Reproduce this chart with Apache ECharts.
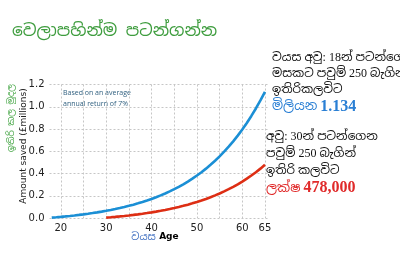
<!DOCTYPE html>
<html><head><meta charset="utf-8">
<script src="https://cdn.jsdelivr.net/npm/echarts@6/dist/echarts.min.js"></script>
<style>html,body{margin:0;padding:0;background:#fff}#c{width:400px;height:253px}</style>
</head><body><div id="c"></div>
<script>
// Age (years) and amount saved (£ millions), start saving at 18
const agesFrom18 = [18,19,20,21,22,23,24,25,26,27,28,29,30,31,32,33,34,35,36,37,38,39,40,41,42,43,44,45,46,47,48,49,50,51,52,53,54,55,56,57,58,59,60,61,62,63,64,65];
const savedFrom18 = [0.0032,0.0066,0.0103,0.0143,0.0185,0.0230,0.0278,0.0329,0.0385,0.0444,0.0507,0.0574,0.0647,0.0724,0.0807,0.0895,0.0990,0.1091,0.1200,0.1316,0.1440,0.1573,0.1715,0.1868,0.2030,0.2205,0.2391,0.2590,0.2804,0.3032,0.3277,0.3538,0.3818,0.4117,0.4437,0.4780,0.5147,0.5539,0.5959,0.6408,0.6889,0.7403,0.7954,0.8543,0.9173,0.9847,1.0568,1.1340];
// Start saving at 30
const agesFrom30 = [30,31,32,33,34,35,36,37,38,39,40,41,42,43,44,45,46,47,48,49,50,51,52,53,54,55,56,57,58,59,60,61,62,63,64,65];
const savedFrom30 = [0.0032,0.0066,0.0103,0.0143,0.0185,0.0230,0.0278,0.0329,0.0385,0.0444,0.0507,0.0574,0.0647,0.0724,0.0807,0.0895,0.0990,0.1091,0.1200,0.1316,0.1440,0.1573,0.1715,0.1868,0.2030,0.2205,0.2391,0.2590,0.2804,0.3032,0.3277,0.3538,0.3818,0.4117,0.4437,0.4780];
const xTickLabels = [20,30,40,50,60,65];
const yTickValues = [0,0.2,0.4,0.6,0.8,1.0,1.2];

const SIN = '"Noto Sans Sinhala","Noto Serif Sinhala","Noto Sans",sans-serif';
const SERIF = '"Liberation Serif","Noto Sans Sinhala",serif';

const chart = echarts.init(document.getElementById('c'), null, {renderer:'canvas'});
const gridDash = {color:['rgba(0,0,0,0)','#c6c6c6'], type:[2,2], width:1};
chart.setOption({
  animation:false,
  backgroundColor:'#fff',
  grid:{left:49.5, right:130.5, top:84.5, bottom:35},
  xAxis:{type:'value', min:17.5, max:66, interval:2.5,
    axisLine:{show:false}, axisTick:{show:false},
    splitLine:{show:true, lineStyle:gridDash},
    axisLabel:{margin:5, fontSize:10, color:'#222', fontFamily:'DejaVu Sans',
      formatter:v=>xTickLabels.indexOf(Math.round(v*100)/100)>=0 ? String(v) : ''}},
  yAxis:{type:'value', min:0, max:1.2, interval:0.2,
    axisLine:{show:false}, axisTick:{show:false},
    splitLine:{show:true, lineStyle:{color:'#c6c6c6', type:[2,2], width:1}},
    axisLabel:{margin:5, fontSize:10, color:'#222', fontFamily:'DejaVu Sans',
      formatter:v=>yTickValues.some(t=>Math.abs(t-v)<1e-9) ? v.toFixed(1) : ''}},
  series:[
    {type:'line', data:agesFrom18.map((a,i)=>[a,savedFrom18[i]]), symbol:'none',
     lineStyle:{color:'#1b8fd5', width:2.6}, z:3},
    {type:'line', data:agesFrom30.map((a,i)=>[a,savedFrom30[i]]), symbol:'none',
     lineStyle:{color:'#dd2e14', width:2.6}, z:3}
  ],
  graphic:[
    {type:'text', left:12, top:23, style:{text:'වෙලාපහින්ම පටන්ගන්න', font:'17px '+SIN, fill:'#3f9d3f'}},
    {type:'text', x:12, y:118, rotation:Math.PI/2, style:{text:'ඉතිරි කල මුදල', font:'9px '+SIN, fill:'#4aa84a', align:'center', verticalAlign:'middle'}},
    {type:'text', x:24, y:146, rotation:Math.PI/2, style:{text:'Amount saved (£millions)', font:'9px "DejaVu Sans"', fill:'#222', align:'center', verticalAlign:'middle'}},
    {type:'text', x:63, y:87, style:{text:'Based on an average\nannual return of 7%', font:'7px "Open Sans"', lineHeight:11, fill:'#2f5f7f'}},
    {type:'text', x:155, y:237, style:{text:'{a|වයස} {b|Age}', align:'center', verticalAlign:'middle',
      rich:{a:{fontSize:10, fontFamily:SIN, fill:'#3f6fc0', color:'#3f6fc0'}, b:{fontSize:9, fontFamily:'DejaVu Sans', fontWeight:'bold', color:'#444'}}}},
    {type:'text', x:272, y:50, style:{text:'වයස අවු: 18න් පටන්ගෙන\nමසකට පවුම් 250 බැගින්\nඉතිරිකලවිට\n{bl|මිලියන} {bn|1.134}',
      font:'12px '+SERIF, fill:'#111', lineHeight:16,
      rich:{bl:{fontSize:13, fontFamily:SIN, color:'#2a7fd4', fill:'#2a7fd4', lineHeight:17}, bn:{fontSize:16, fontFamily:SERIF, fontWeight:'bold', color:'#2a7fd4', fill:'#2a7fd4', lineHeight:17}}}},
    {type:'text', x:266, y:128, style:{text:'අවු: 30න් පටන්ගෙන\nපවුම් 250 බැගින්\nඉතිරි කලවිට\n{rl|ලක්ෂ} {rn|478,000}',
      font:'12px '+SERIF, fill:'#111', lineHeight:17,
      rich:{rl:{fontSize:13, fontFamily:SIN, color:'#e02a2a', fill:'#e02a2a', lineHeight:18}, rn:{fontSize:16, fontFamily:SERIF, fontWeight:'bold', color:'#e02a2a', fill:'#e02a2a', lineHeight:18}}}}
  ]
});
</script></body></html>
